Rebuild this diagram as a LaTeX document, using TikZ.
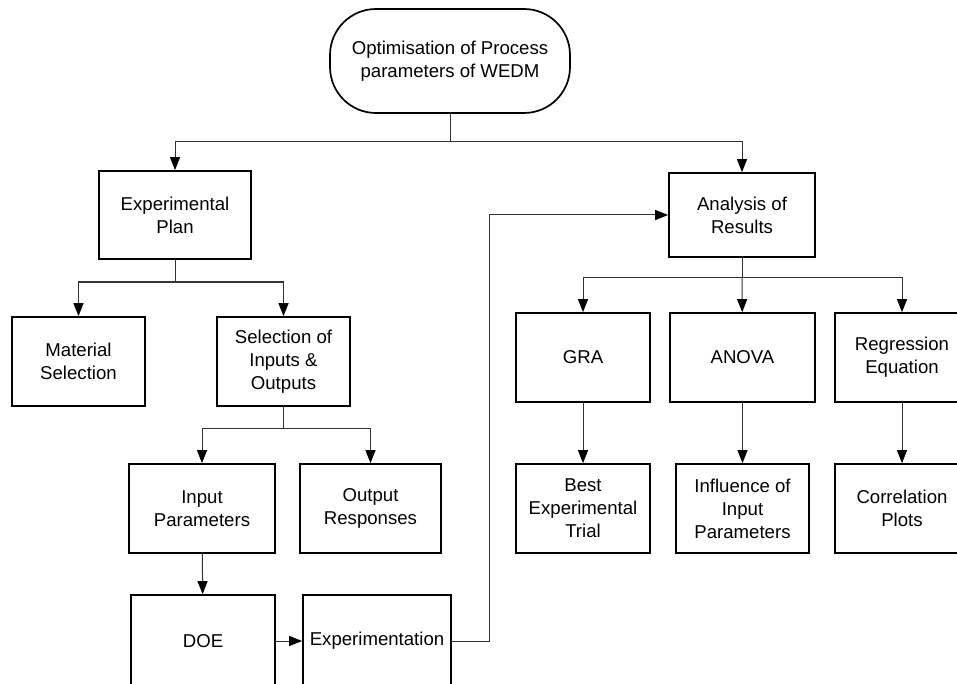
\documentclass[tikz,border=0pt]{standalone}
\usepackage{fontspec}
\setmainfont{Liberation Sans}
\usepackage{tikz}
\usetikzlibrary{arrows.meta}
\definecolor{linkc}{HTML}{333333}
\tikzset{
  box/.style={draw=black, line width=1.7pt, fill=white, align=center, inner sep=2pt,
    font=\fontsize{18.6}{23}\selectfont},
  term/.style={box, rounded corners=46pt},
  link/.style={draw=linkc, line width=1pt, -{Triangle[length=13pt,width=10pt,color=black]}},
  plain/.style={draw=linkc, line width=1pt},
}

\begin{document}
\begin{tikzpicture}[x=1pt,y=-1pt]
\clip (0,0) rectangle (957,684);
\fill[white] (0,0) rectangle (957,684);
\node[term, minimum width=240pt, minimum height=104pt] (top) at (450,61) {Optimisation of Process\\parameters of WEDM};
\node[box, minimum width=152pt, minimum height=88pt] (plan) at (175,215) {Experimental\\Plan};
\node[box, minimum width=146pt, minimum height=84pt] (analysis) at (742,215) {Analysis of\\Results};
\node[box, minimum width=133pt, minimum height=89pt] (material) at (78.5,361.5) {Material\\Selection};
\node[box, minimum width=133pt, minimum height=89pt] (select) at (283.5,361.5) {Selection of\\Inputs \&\\Outputs};
\node[box, minimum width=134pt, minimum height=89pt] (gra) at (583,357.5) {GRA};
\node[box, minimum width=145pt, minimum height=89pt] (anova) at (742.5,357.5) {ANOVA};
\node[box, minimum width=134pt, minimum height=89pt] (regr) at (902,357.5) {Regression\\Equation};
\node[box, minimum width=146pt, minimum height=89pt] (input) at (202,508.5) {Input\\Parameters};
\node[box, minimum width=141pt, minimum height=89pt] (output) at (370.5,508.5) {Output\\Responses};
\node[box, minimum width=134pt, minimum height=89pt] (best) at (583,508.5) {Best\\Experimental\\Trial};
\node[box, minimum width=133pt, minimum height=89pt] (infl) at (742.5,508.5) {Influence of\\Input\\Parameters};
\node[box, minimum width=134pt, minimum height=89pt] (corr) at (902,508.5) {Correlation\\Plots};
\node[box, minimum width=144pt, minimum height=92pt] (doe) at (203,641) {DOE};
\node[box, minimum width=148pt, minimum height=92pt] (exper) at (377,641) {Experimentation};
% joints
\coordinate (j1) at (450,142);
\coordinate (j2) at (175,282);
\coordinate (j3) at (283.5,428);
\coordinate (j4) at (742,278);
\coordinate (fb) at (489,641);
\draw[plain] (top) -- (j1);
\draw[link] (j1) -| (plan);
\draw[link] (j1) -| (analysis);
\draw[plain] (plan) -- (j2);
\draw[link] (j2) -| (material);
\draw[link] (j2) -| (select);
\draw[plain] (select) -- (j3);
\draw[link] (j3) -| (input);
\draw[link] (j3) -| (output);
\draw[link] (input) -- (doe);
\draw[link] (doe) -- (exper);
\draw[link] (exper) -- (fb) |- (analysis);
\draw[plain] (analysis) -- (j4);
\draw[link] (j4) -| (gra);
\draw[link] (j4) -- (anova);
\draw[link] (j4) -| (regr);
\draw[link] (gra) -- (best);
\draw[link] (anova) -- (infl);
\draw[link] (regr) -- (corr);
\end{tikzpicture}
\end{document}
